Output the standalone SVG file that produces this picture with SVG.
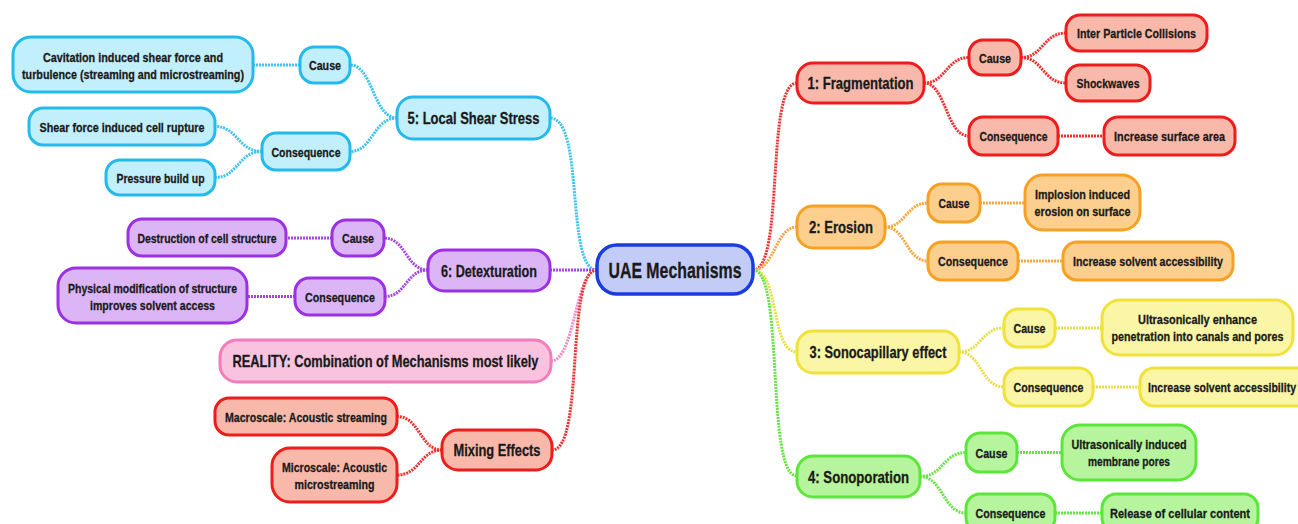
<svg xmlns="http://www.w3.org/2000/svg" width="1298" height="524" viewBox="0 0 1298 524">
<style>
text{font-family:"Liberation Sans Narrow","Liberation Sans",Arial,sans-serif;font-weight:bold;fill:#1a1a1a;stroke:#1a1a1a;stroke-width:0.3;text-anchor:middle}
.t1{font-size:13.5px}
.t2{font-size:17px}
.t3{font-size:22px}
rect{stroke-width:3}
.blue{fill:#c2effc;stroke:#25b9ec}
.purple{fill:#dcb5f7;stroke:#9b31e3}
.pink{fill:#f9c3df;stroke:#f27dbb}
.red{fill:#f8b9aa;stroke:#ee1c1c}
.orange{fill:#fccf8f;stroke:#f6a124}
.yellow{fill:#fbf5a6;stroke:#efe23a}
.green{fill:#b6f59d;stroke:#5de63a}
.center{fill:#c3cbf7;stroke:#1a3de0;stroke-width:3.5}
#connectors path{fill:none;stroke-width:3;stroke-dasharray:2 1}
.cb{stroke:#3cc3f2}.cp{stroke:#a345e3}.cpk{stroke:#f58ac4}.cr{stroke:#ee3030}.co{stroke:#f5a742}.cy{stroke:#e8de4a}.cg{stroke:#66e344}
</style>
<rect width="1298" height="524" fill="#ffffff" stroke="none"/>
<g id="connectors">
<path class="cr" d="M753,270 C785,270 765,83 797,83"/>
<path class="co" d="M753,270 C775,270 775,227 797,227"/>
<path class="cy" d="M753,270 C780,270 770,352 797,352"/>
<path class="cg" d="M753,270 C785,270 765,476 797,476"/>
<path class="cb" d="M597,270 C565,270 585,118 550,118"/>
<path class="cp" d="M597,270 L550,270"/>
<path class="cpk" d="M597,270 C575,270 575,361 551,361"/>
<path class="cr" d="M597,270 C565,270 585,450 552,450"/>
<path class="cr" d="M924,83 C946,83 946,57.5 969,57.5"/>
<path class="cr" d="M924,83 C946,83 946,136 969,136"/>
<path class="cr" d="M1021,57.5 C1043,57.5 1043,33 1066,33"/>
<path class="cr" d="M1021,57.5 C1043,57.5 1043,83 1066,83"/>
<path class="cr" d="M1058,136 L1104,136"/>
<path class="co" d="M885,227 C906,227 906,203 928,203"/>
<path class="co" d="M885,227 C906,227 906,261 928,261"/>
<path class="co" d="M980,203 L1025,203"/>
<path class="co" d="M1018,261 L1063,261"/>
<path class="cy" d="M959,352 C981,352 981,328 1004,328"/>
<path class="cy" d="M959,352 C981,352 981,387 1004,387"/>
<path class="cy" d="M1055,328 L1102,328"/>
<path class="cy" d="M1093,387 L1140,387"/>
<path class="cg" d="M920,476.5 C943,476.5 943,452.5 966,452.5"/>
<path class="cg" d="M920,476.5 C943,476.5 943,513 966,513"/>
<path class="cg" d="M1017,452.5 L1062,452.5"/>
<path class="cg" d="M1055,513 L1102,513"/>
<path class="cb" d="M397,118 C373,118 373,65 350,65"/>
<path class="cb" d="M397,118 C373,118 373,151.5 350,151.5"/>
<path class="cb" d="M300,65 L253,65"/>
<path class="cb" d="M262,151.5 C238,151.5 238,126.5 215,126.5"/>
<path class="cb" d="M262,151.5 C238,151.5 238,177.5 215,177.5"/>
<path class="cp" d="M428,270 C406,270 406,238 384,238"/>
<path class="cp" d="M428,270 C406,270 406,296.5 385,296.5"/>
<path class="cp" d="M332,238 L286,238"/>
<path class="cp" d="M295,296.5 L247,296.5"/>
<path class="cr" d="M442,450 C420,450 420,416.5 397,416.5"/>
<path class="cr" d="M442,450 C420,450 420,475 397,475"/>
</g>

<g id="uae"><rect class="center" x="597" y="245" width="156" height="49" rx="20"/><text class="t3" x="675" y="278" textLength="133" lengthAdjust="spacingAndGlyphs">UAE Mechanisms</text></g>

<g id="n5"><rect class="blue" x="397" y="97" width="153" height="42" rx="16"/><text class="t2" x="473.5" y="124" textLength="132" lengthAdjust="spacingAndGlyphs">5: Local Shear Stress</text></g>
<g id="b-cause"><rect class="blue" x="300" y="47" width="50" height="36" rx="14"/><text class="t1" x="325" y="70" textLength="32" lengthAdjust="spacingAndGlyphs">Cause</text></g>
<g id="b-cav"><rect class="blue" x="13" y="37" width="240" height="55" rx="18"/><text class="t1" x="133" y="62" textLength="180" lengthAdjust="spacingAndGlyphs">Cavitation induced shear force and</text><text class="t1" x="133" y="79" textLength="222" lengthAdjust="spacingAndGlyphs">turbulence (streaming and microstreaming)</text></g>
<g id="b-cons"><rect class="blue" x="262" y="133" width="88" height="37" rx="14"/><text class="t1" x="306" y="156.5" textLength="69" lengthAdjust="spacingAndGlyphs">Consequence</text></g>
<g id="b-shear"><rect class="blue" x="29" y="108" width="186" height="37" rx="14"/><text class="t1" x="122" y="131.5" textLength="165" lengthAdjust="spacingAndGlyphs">Shear force induced cell rupture</text></g>
<g id="b-press"><rect class="blue" x="106" y="160" width="109" height="35" rx="14"/><text class="t1" x="160.5" y="182.5" textLength="88" lengthAdjust="spacingAndGlyphs">Pressure build up</text></g>

<g id="n6"><rect class="purple" x="428" y="250" width="122" height="41" rx="16"/><text class="t2" x="489" y="276.5" textLength="96" lengthAdjust="spacingAndGlyphs">6: Detexturation</text></g>
<g id="p-cause"><rect class="purple" x="332" y="220" width="52" height="36" rx="14"/><text class="t1" x="358" y="243" textLength="32" lengthAdjust="spacingAndGlyphs">Cause</text></g>
<g id="p-destr"><rect class="purple" x="128" y="219" width="158" height="37" rx="14"/><text class="t1" x="207" y="242.5" textLength="139" lengthAdjust="spacingAndGlyphs">Destruction of cell structure</text></g>
<g id="p-cons"><rect class="purple" x="295" y="278" width="90" height="37" rx="14"/><text class="t1" x="340" y="301.5" textLength="70" lengthAdjust="spacingAndGlyphs">Consequence</text></g>
<g id="p-phys"><rect class="purple" x="58" y="268" width="189" height="55" rx="18"/><text class="t1" x="152.5" y="293" textLength="169" lengthAdjust="spacingAndGlyphs">Physical modification of structure</text><text class="t1" x="152.5" y="310" textLength="125" lengthAdjust="spacingAndGlyphs">improves solvent access</text></g>

<g id="reality"><rect class="pink" x="220" y="340" width="331" height="42" rx="17"/><text class="t2" x="385.5" y="367" textLength="306" lengthAdjust="spacingAndGlyphs">REALITY: Combination of Mechanisms most likely</text></g>

<g id="mixing"><rect class="red" x="442" y="430" width="110" height="40" rx="16"/><text class="t2" x="497" y="456" textLength="87" lengthAdjust="spacingAndGlyphs">Mixing Effects</text></g>
<g id="macro"><rect class="red" x="215" y="398" width="182" height="37" rx="14"/><text class="t1" x="306" y="421.5" textLength="162" lengthAdjust="spacingAndGlyphs">Macroscale: Acoustic streaming</text></g>
<g id="micro"><rect class="red" x="272" y="448" width="125" height="54" rx="18"/><text class="t1" x="334.5" y="472" textLength="105" lengthAdjust="spacingAndGlyphs">Microscale: Acoustic</text><text class="t1" x="334.5" y="489" textLength="80" lengthAdjust="spacingAndGlyphs">microstreaming</text></g>

<g id="n1"><rect class="red" x="797" y="63" width="127" height="40" rx="16"/><text class="t2" x="860.5" y="89" textLength="106" lengthAdjust="spacingAndGlyphs">1: Fragmentation</text></g>
<g id="r-cause"><rect class="red" x="969" y="40" width="52" height="35" rx="14"/><text class="t1" x="995" y="62.5" textLength="32" lengthAdjust="spacingAndGlyphs">Cause</text></g>
<g id="r-inter"><rect class="red" x="1066" y="15" width="141" height="36" rx="14"/><text class="t1" x="1136.5" y="38" textLength="119" lengthAdjust="spacingAndGlyphs">Inter Particle Collisions</text></g>
<g id="r-shock"><rect class="red" x="1066" y="65" width="84" height="36" rx="14"/><text class="t1" x="1108" y="88" textLength="63" lengthAdjust="spacingAndGlyphs">Shockwaves</text></g>
<g id="r-cons"><rect class="red" x="969" y="117" width="89" height="38" rx="14"/><text class="t1" x="1013.5" y="141" textLength="68" lengthAdjust="spacingAndGlyphs">Consequence</text></g>
<g id="r-incr"><rect class="red" x="1104" y="117" width="131" height="38" rx="14"/><text class="t1" x="1169.5" y="141" textLength="111" lengthAdjust="spacingAndGlyphs">Increase surface area</text></g>

<g id="n2"><rect class="orange" x="797" y="206" width="88" height="42" rx="16"/><text class="t2" x="841" y="233" textLength="64" lengthAdjust="spacingAndGlyphs">2: Erosion</text></g>
<g id="o-cause"><rect class="orange" x="928" y="184" width="52" height="38" rx="14"/><text class="t1" x="954" y="208" textLength="31" lengthAdjust="spacingAndGlyphs">Cause</text></g>
<g id="o-impl"><rect class="orange" x="1025" y="175" width="115" height="55" rx="18"/><text class="t1" x="1082.5" y="199" textLength="95" lengthAdjust="spacingAndGlyphs">Implosion induced</text><text class="t1" x="1082.5" y="216" textLength="96" lengthAdjust="spacingAndGlyphs">erosion on surface</text></g>
<g id="o-cons"><rect class="orange" x="928" y="242" width="90" height="38" rx="14"/><text class="t1" x="973" y="266" textLength="70" lengthAdjust="spacingAndGlyphs">Consequence</text></g>
<g id="o-incr"><rect class="orange" x="1063" y="242" width="170" height="38" rx="14"/><text class="t1" x="1148" y="266" textLength="150" lengthAdjust="spacingAndGlyphs">Increase solvent accessibility</text></g>

<g id="n3"><rect class="yellow" x="797" y="331" width="162" height="42" rx="16"/><text class="t2" x="878" y="358" textLength="137" lengthAdjust="spacingAndGlyphs">3: Sonocapillary effect</text></g>
<g id="y-cause"><rect class="yellow" x="1004" y="309" width="51" height="38" rx="14"/><text class="t1" x="1029.5" y="333" textLength="32" lengthAdjust="spacingAndGlyphs">Cause</text></g>
<g id="y-ultra"><rect class="yellow" x="1102" y="300" width="191" height="55" rx="18"/><text class="t1" x="1197.5" y="324" textLength="119" lengthAdjust="spacingAndGlyphs">Ultrasonically enhance</text><text class="t1" x="1197.5" y="341" textLength="172" lengthAdjust="spacingAndGlyphs">penetration into canals and pores</text></g>
<g id="y-cons"><rect class="yellow" x="1004" y="368" width="89" height="38" rx="14"/><text class="t1" x="1048.5" y="392" textLength="70" lengthAdjust="spacingAndGlyphs">Consequence</text></g>
<g id="y-incr"><rect class="yellow" x="1140" y="368" width="172" height="38" rx="14"/><text class="t1" x="1222" y="392" textLength="148" lengthAdjust="spacingAndGlyphs">Increase solvent accessibility</text></g>

<g id="n4"><rect class="green" x="797" y="456" width="123" height="41" rx="16"/><text class="t2" x="858.5" y="482.5" textLength="101" lengthAdjust="spacingAndGlyphs">4: Sonoporation</text></g>
<g id="g-cause"><rect class="green" x="966" y="433" width="51" height="39" rx="14"/><text class="t1" x="991.5" y="457.5" textLength="32" lengthAdjust="spacingAndGlyphs">Cause</text></g>
<g id="g-ultra"><rect class="green" x="1062" y="425" width="134" height="55" rx="18"/><text class="t1" x="1129" y="449" textLength="115" lengthAdjust="spacingAndGlyphs">Ultrasonically induced</text><text class="t1" x="1129" y="466" textLength="82" lengthAdjust="spacingAndGlyphs">membrane pores</text></g>
<g id="g-cons"><rect class="green" x="966" y="494" width="89" height="38" rx="14"/><text class="t1" x="1010.5" y="518" textLength="70" lengthAdjust="spacingAndGlyphs">Consequence</text></g>
<g id="g-rel"><rect class="green" x="1102" y="494" width="156" height="38" rx="14"/><text class="t1" x="1180" y="518" textLength="140" lengthAdjust="spacingAndGlyphs">Release of cellular content</text></g>
</svg>
